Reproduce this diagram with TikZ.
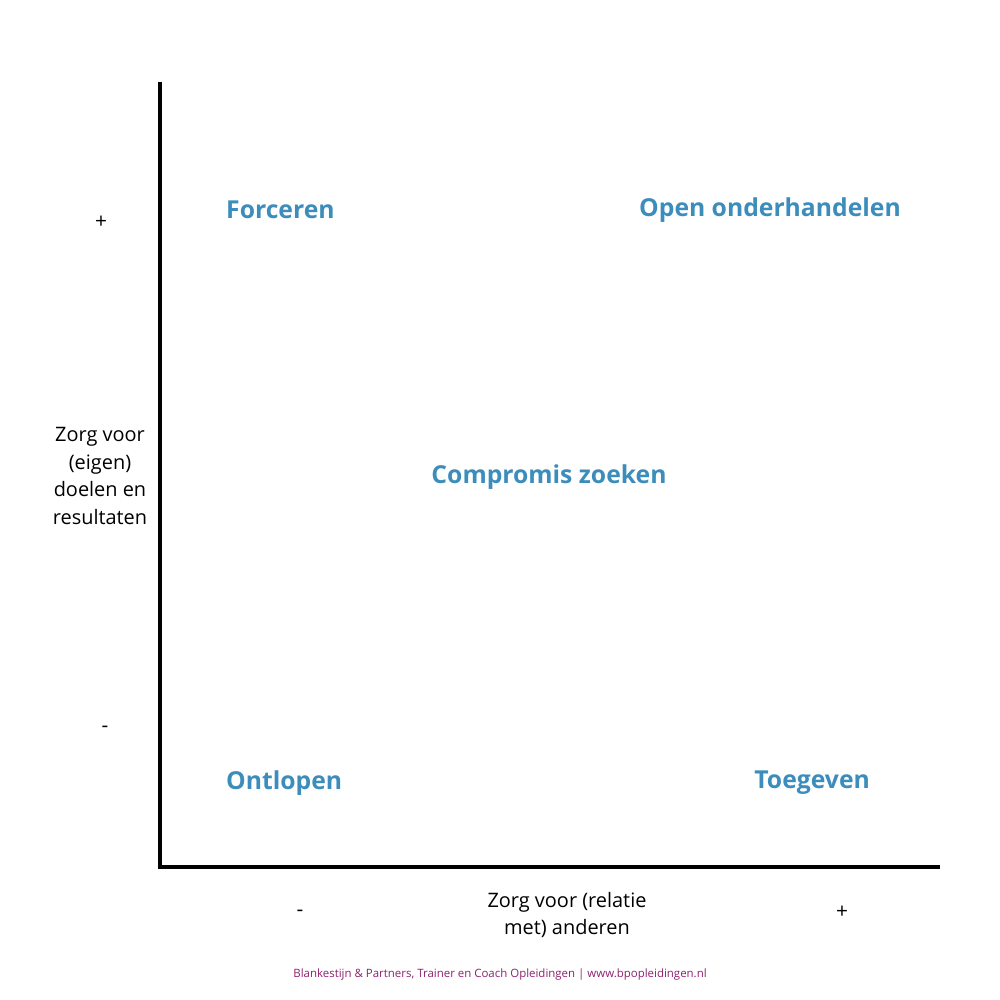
\documentclass[tikz,border=0pt]{standalone}
\usepackage{fontspec}
\setmainfont{Open Sans}
\definecolor{qblue}{HTML}{3C8DBC}
\definecolor{fpurple}{HTML}{8E1F6E}
\begin{document}
\begin{tikzpicture}[x=1bp,y=-1bp,
  quad/.style={font=\fontsize{24.8}{28}\selectfont\bfseries, text=qblue, inner sep=0pt},
  axlabel/.style={font=\fontsize{20}{27.6}\selectfont, align=center, inner sep=0pt},
  sign/.style={font=\fontsize{21}{22}\selectfont\addfontfeatures{}, inner sep=0pt},
  axisline/.style={line width=4bp}]
\useasboundingbox (0,0) rectangle (1000,1000);
\coordinate (top) at (160,82);
\coordinate (origin) at (160,867);
\coordinate (right) at (940,867);
\draw[axisline] (top) -- (origin) -- (right);
\node[quad, anchor=west] (forceren) at (226,210) {Forceren};
\node[quad, anchor=west] (open) at (639,210) {Open onderhandelen};
\node[quad] (compromis) at (549,477) {Compromis zoeken};
\node[quad, anchor=west] (ontlopen) at (226,783) {Ontlopen};
\node[quad, anchor=east] (toegeven) at (870,783) {Toegeven};
\node[axlabel] (ylabel) at (100,476) {Zorg voor\\(eigen)\\doelen en\\resultaten};
\node[axlabel] (xlabel) at (567,915) {Zorg voor (relatie\\met) anderen};
\node[sign] (yplus) at (101,222) {+};
\node[sign] (yminus) at (105,729) {-};
\node[sign] (xminus) at (300,913) {-};
\node[sign] (xplus) at (842,912) {+};
\node[font=\fontsize{11.5}{13}\selectfont, text=fpurple, inner sep=0pt] (footer) at (500,975) {Blankestijn \& Partners, Trainer en Coach Opleidingen | www.bpopleidingen.nl};
\end{tikzpicture}
\end{document}
